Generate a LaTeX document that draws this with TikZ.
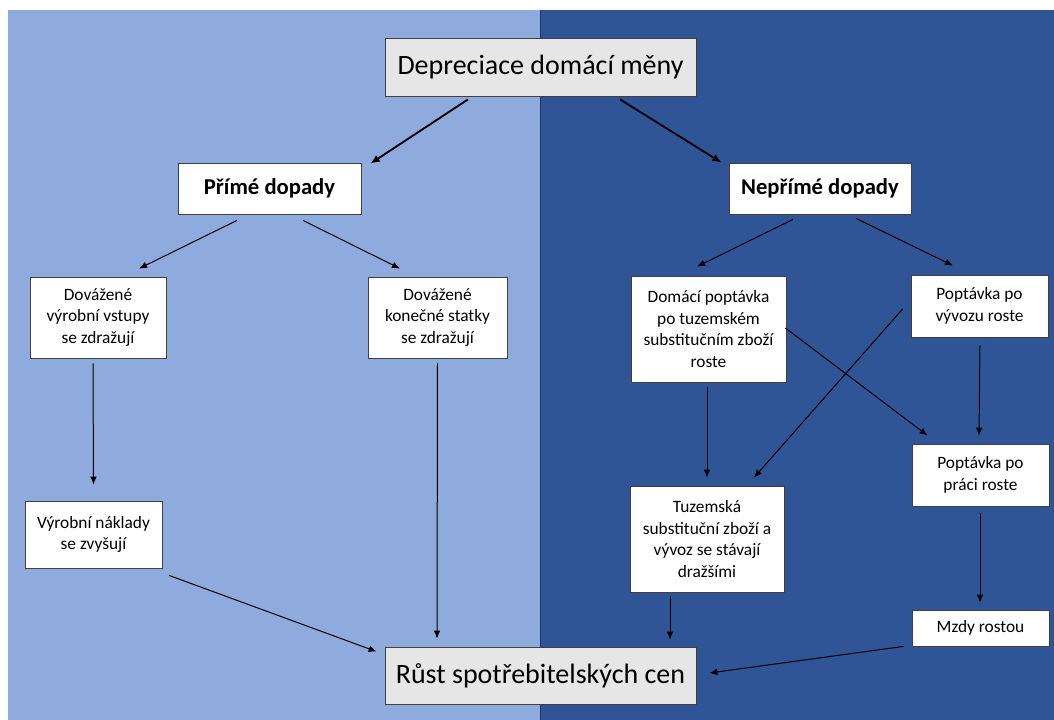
\documentclass[tikz,border=0pt]{standalone}
\usepackage{fontspec}
\setmainfont{Carlito}
\usetikzlibrary{arrows.meta}
\definecolor{lightbg}{HTML}{8FAADC}
\definecolor{darkbg}{HTML}{2F5597}
\definecolor{darkedge}{HTML}{203864}
\definecolor{graybox}{HTML}{E7E6E6}
\tikzset{
  box/.style={draw=black!75, fill=white, line width=0.6pt, align=center, inner sep=0pt,
    font=\fontsize{13}{16.2}\selectfont},
  bigbox/.style={box, fill=graybox, font=\fontsize{21}{25}\selectfont},
  headbox/.style={box, font=\fontsize{17}{20}\selectfont\bfseries},
  arr/.style={line width=0.75pt, -{Latex[length=6pt,width=5pt]}},
  thickarr/.style={line width=1.4pt, -{Latex[length=7pt,width=6pt]}}
}
\begin{document}
\begin{tikzpicture}[x=0.75pt,y=-0.75pt]
\useasboundingbox (0,0) rectangle (1054,720);
\fill[white] (0,0) rectangle (1054,720);
\fill[lightbg] (8,10) rectangle (540,720);
\fill[darkbg] (540,10) rectangle (1054,720);
\draw[darkedge, line width=0.6pt] (540,10) -- (540,720);

\node[bigbox, minimum width=233.25pt, minimum height=43.5pt] (dep) at (540.5,67) {Depreciace domácí měny};
\node[headbox, minimum width=137.25pt, minimum height=38.25pt] (prime) at (269.5,188.5) {Přímé dopady};
\node[headbox, minimum width=136.5pt, minimum height=38.25pt] (neprime) at (820,188.5) {Nepřímé dopady};
\node[box, minimum width=102pt, minimum height=60.75pt] (vstupy) at (98,317.5) {Dovážené\\výrobní vstupy\\se zdražují};
\node[box, minimum width=104.25pt, minimum height=60.75pt] (konecne) at (437.5,317.5) {Dovážené\\konečné statky\\se zdražují};
\node[box, minimum width=116.25pt, minimum height=79.5pt] (domaci) at (708.5,329) {Domácí poptávka\\po tuzemském\\substitučním zboží\\roste};
\node[box, minimum width=102.75pt, minimum height=46.5pt] (vyvoz) at (979.5,306) {Poptávka po\\vývozu roste};
\node[box, minimum width=102.75pt, minimum height=46.5pt] (prace) at (980.5,475) {Poptávka po\\práci roste};
\node[box, minimum width=102.75pt, minimum height=50.25pt] (naklady) at (93.5,534.5) {Výrobní náklady\\se zvyšují};
\node[box, minimum width=115.5pt, minimum height=79.5pt] (tuzemska) at (707,539) {Tuzemská\\substituční zboží a\\vývoz se stávají\\dražšími};
\node[box, minimum width=102.75pt, minimum height=27pt] (mzdy) at (980.5,628) {Mzdy rostou};
\node[bigbox, minimum width=233.25pt, minimum height=42.75pt] (rust) at (540.5,675.5) {Růst spotřebitelských cen};

\draw[thickarr] ([shift={(-72.5,3)}]dep.south) -- ([shift={(9,1)}]prime.north east);
\draw[thickarr] ([shift={(79.5,3)}]dep.south) -- ([shift={(-7,0)}]neprime.north west);
\draw[arr] ([shift={(-32.5,6)}]prime.south) -- ([shift={(41,-8)}]vstupy.north);
\draw[arr] ([shift={(33.5,6)}]prime.south) -- ([shift={(-37.5,-8)}]konecne.north);
\draw[arr] ([shift={(-27,5)}]neprime.south) -- ([shift={(-11.5,-9)}]domaci.north);
\draw[arr] ([shift={(36,4)}]neprime.south) -- ([shift={(-26.5,-9)}]vyvoz.north);
\draw[arr] ([shift={(-5,5)}]vstupy.south) -- ([shift={(0,-16)}]naklady.north);
\draw[arr] ([shift={(0,5)}]konecne.south) -- ([shift={(-103.5,-8)}]rust.north);
\draw[arr] ([shift={(6.6,7)}]naklady.south east) -- ([shift={(-8,5)}]rust.north west);
\draw[arr] ([shift={(-1.5,5)}]domaci.south) -- ([shift={(0,-8)}]tuzemska.north);
\draw[arr] ([shift={(-1,-1)}]domaci.east) -- ([shift={(16,-8)}]prace.north west);
\draw[arr] ([shift={(-8,3)}]vyvoz.west) -- ([shift={(47,-8)}]tuzemska.north);
\draw[arr] ([shift={(0.5,8)}]vyvoz.south) -- ([shift={(-1.5,-8)}]prace.north);
\draw[arr] ([shift={(-0.5,7)}]prace.south) -- ([shift={(-0.5,-7)}]mzdy.north);
\draw[arr] ([shift={(-37,4)}]tuzemska.south) -- ([shift={(129.5,-7)}]rust.north);
\draw[arr] ([shift={(-8,0)}]mzdy.south west) -- ([shift={(13,-2.5)}]rust.east);
\end{tikzpicture}
\end{document}
